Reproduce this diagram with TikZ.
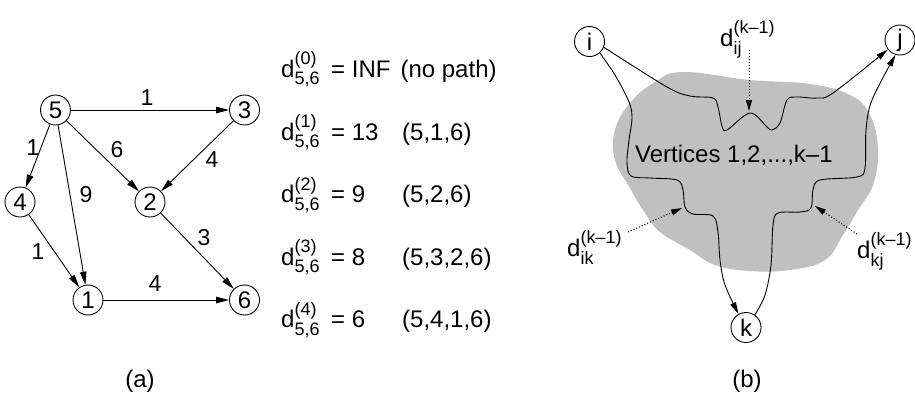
\documentclass[tikz,border=0pt]{standalone}
\usepackage{amsmath}
\usepackage{fontspec}
\setmainfont{Liberation Sans}
\usetikzlibrary{arrows.meta}
\definecolor{blobgray}{RGB}{192,192,192}
\newcommand{\scr}[1]{\hbox{\fontsize{18}{18}\selectfont #1}}
\newcommand{\dsym}[2]{d$^{\scr{#1}}_{\scr{#2}}$}
\begin{document}
\begin{tikzpicture}[x=1pt,y=-1pt,
  vtx/.style={circle,draw,line width=0.9pt,minimum size=30pt,inner sep=0pt,font=\fontsize{24}{28}\selectfont},
  edge/.style={line width=0.9pt,-{Triangle[length=13pt,width=6.5pt]}},
  elab/.style={font=\fontsize{23}{27}\selectfont,inner sep=0pt},
  eqn/.style={anchor=base west,inner sep=0pt,font=\fontsize{24}{28}\selectfont},
  wavyarrow/.style={line width=0.9pt,-{Triangle[length=12pt,width=6pt]}},
  dotarrow/.style={line width=1pt,dash pattern=on 1pt off 2pt,-{Triangle[length=11pt,width=6pt]}},
  capt/.style={font=\fontsize{24}{28}\selectfont,inner sep=0pt}
]
\useasboundingbox (0,0) rectangle (915,392);
\clip (0,0) rectangle (915,392);

% ---------- (a) ----------
\node[vtx] (n5) at (55.5,110) {5};
\node[vtx] (n3) at (244.5,110) {3};
\node[vtx] (n4) at (20,202) {4};
\node[vtx] (n2) at (150,202) {2};
\node[vtx] (n1) at (88,300) {1};
\node[vtx] (n6) at (244.5,300) {6};

\draw[edge] (n5) -- (n3);
\draw[edge] (n5) -- (n4);
\draw[edge] (n5) -- (n2);
\draw[edge] (n5) -- (n1);
\draw[edge] (n3) -- (n2);
\draw[edge] (n4) -- (n1);
\draw[edge] (n2) -- (n6);
\draw[edge] (n1) -- (n6);

\node[elab] (l53) at (147,98) {1};
\node[elab] (l54) at (33,147.5) {1};
\node[elab] (l52) at (117,150) {6};
\node[elab] (l32) at (212,160) {4};
\node[elab] (l51) at (86,195) {9};
\node[elab] (l41) at (38,252) {1};
\node[elab] (l26) at (204,238) {3};
\node[elab] (l16) at (155,284) {4};

\node[eqn] (e0) at (281,77) {\makebox[50pt][l]{\dsym{(0)}{5,6}}= INF\hspace{10pt}(no path)};
\node[eqn] (e1) at (281,140) {\makebox[50pt][l]{\dsym{(1)}{5,6}}\makebox[71pt][l]{= 13}(5,1,6)};
\node[eqn] (e2) at (281,202.5) {\makebox[50pt][l]{\dsym{(2)}{5,6}}\makebox[71pt][l]{= 9}(5,2,6)};
\node[eqn] (e3) at (281,265) {\makebox[50pt][l]{\dsym{(3)}{5,6}}\makebox[71pt][l]{= 8}(5,3,2,6)};
\node[eqn] (e4) at (281,327.5) {\makebox[50pt][l]{\dsym{(4)}{5,6}}\makebox[71pt][l]{= 6}(5,4,1,6)};

\node[capt] (ca) at (140,381) {(a)};

% ---------- (b) ----------
\fill[blobgray] plot[smooth cycle, tension=0.7] coordinates {
  (683,72) (750,80) (810,84) (850,95) (870,115) (878,150) (873,185) (858,210)
  (843,235) (825,260) (790,270) (750,271) (715,265) (690,250) (660,232)
  (643,210) (630,188) (615,160) (615,130) (630,103) (655,82)};

\node[vtx] (i) at (589.5,41.5) {i};
\node[vtx] (j) at (900,40) {j};
\node[vtx] (k) at (746,327.5) {k};

\node[eqn] (vt) at (635,162) {Vertices 1,2,...,k–1};

% i -> j
\draw[wavyarrow] plot[smooth, tension=0.55] coordinates {
  (i.-22) (667,87) (690,96) (713,98) (718,107) (722,126) (727,130)
  (750,113) (767,127) (772,130) (780,123) (787,100) (797,97) (817,98)
  (833,93) (j.-142)};
% i -> k
\draw[wavyarrow] plot[smooth, tension=0.55] coordinates {
  (i.-48) (615,75) (629,102) (632,118) (629,140) (627,162) (631,176)
  (650,178) (677,180) (683,190) (685,207) (693,214) (713,216) (718,232)
  (720,260) (725,285) (k.119)};
% k -> j
\draw[wavyarrow] plot[smooth, tension=0.55] coordinates {
  (k.55) (765,295) (771,265) (773,225) (778,213) (800,212) (811,208)
  (813,190) (820,180) (857,177) (865,168) (866,130) (872,100) (j.-107)};

\node[eqn] (dij) at (720,46) {\dsym{(k–1)}{ij}};
\node[eqn] (dik) at (567,256) {\dsym{(k–1)}{ik}};
\node[eqn] (dkj) at (857,258) {\dsym{(k–1)}{kj}};

\coordinate (sij) at (749,50);
\coordinate (tij) at (749,111);
\coordinate (sik) at (628,232);
\coordinate (tik) at (682,208);
\coordinate (skj) at (857,234);
\coordinate (tkj) at (815,206);

\draw[dotarrow] (sij) -- (tij);
\draw[dotarrow] (sik) -- (tik);
\draw[dotarrow] (skj) -- (tkj);

\node[capt] (cb) at (747,381) {(b)};
\end{tikzpicture}
\end{document}
